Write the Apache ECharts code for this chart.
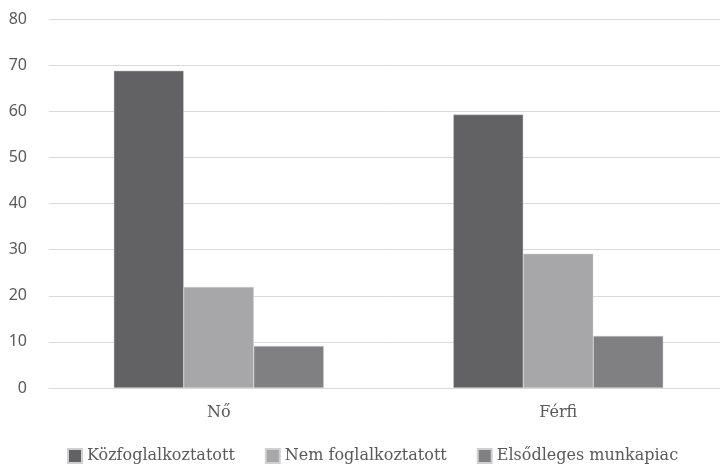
<!DOCTYPE html>
<html>
<head>
<meta charset="utf-8">
<script src="https://cdn.jsdelivr.net/npm/echarts@6/dist/echarts.min.js"></script>
<style>
  html, body { margin: 0; padding: 0; background: #fff; overflow: hidden; }
  /* plot runs a bit past the right edge, like the original */
  #chart { width: 728px; height: 465px; }
</style>
</head>
<body>
<div id="chart"></div>
<script>
var categories = ["Nő", "Férfi"];
var seriesNames = ["Közfoglalkoztatott", "Nem foglalkoztatott", "Elsődleges munkapiac"];
var kozfoglalkoztatott = [68.8, 59.3];
var nemFoglalkoztatott = [21.9, 29.1];
var elsodleges = [9.1, 11.3];
var colors = ["#626264", "#a7a7aa", "#808083"];

var serif = "DejaVu Serif";
var chart = echarts.init(document.getElementById("chart"));
chart.setOption({
  animation: false,
  color: colors,
  textStyle: { fontFamily: serif },
  grid: { left: 49, right: 0, top: 19, bottom: 77, containLabel: false },
  legend: {
    bottom: 1,
    left: 67,
    padding: 0,
    itemWidth: 14,
    itemHeight: 14,
    itemGap: 30,
    icon: "rect",
    textStyle: { fontFamily: serif, fontSize: 16, color: "#595959" },
    data: seriesNames
  },
  xAxis: {
    type: "category",
    data: categories,
    axisLine: { lineStyle: { color: "#d9d9d9" } },
    axisTick: { show: false },
    axisLabel: { fontFamily: serif, fontSize: 16, color: "#595959", margin: 17 }
  },
  yAxis: {
    type: "value",
    min: 0,
    max: 80,
    interval: 10,
    axisLine: { show: false },
    axisTick: { show: false },
    splitLine: { lineStyle: { color: "#d9d9d9" } },
    axisLabel: { fontFamily: "Noto Sans", fontSize: 16, color: "#595959", margin: 22 }
  },
  series: [
    { name: seriesNames[0], type: "bar", data: kozfoglalkoztatott, barGap: "0%", barWidth: 70,
      itemStyle: { borderColor: "#d0d0d0", borderWidth: 0.5 } },
    { name: seriesNames[1], type: "bar", data: nemFoglalkoztatott, barWidth: 70,
      itemStyle: { borderColor: "#d0d0d0", borderWidth: 0.5 } },
    { name: seriesNames[2], type: "bar", data: elsodleges, barWidth: 70,
      itemStyle: { borderColor: "#d0d0d0", borderWidth: 0.5 } }
  ]
});
</script>
</body>
</html>
